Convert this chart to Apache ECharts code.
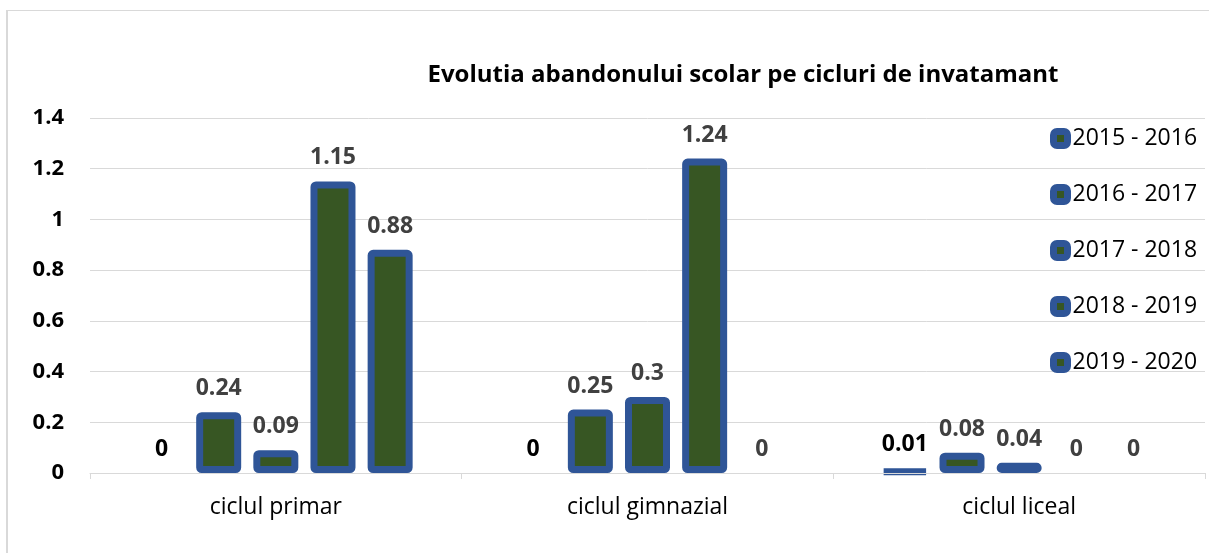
<!DOCTYPE html>
<html>
<head>
<meta charset="utf-8">
<script src="https://cdn.jsdelivr.net/npm/echarts@6/dist/echarts.min.js"></script>
<style>
body{margin:0;background:#fff}
#frame{position:absolute;left:6px;top:10px;width:1203px;height:543px;border-left:2px solid #d9d9d9;border-top:1px solid #d9d9d9;box-sizing:border-box}
#chart{position:absolute;left:0;top:0;width:1209px;height:553px}
</style>
</head>
<body>
<div id="frame"></div>
<div id="chart"></div>
<script>
// categorii si valori
var categories = ['ciclul primar', 'ciclul gimnazial', 'ciclul liceal'];
var seriesNames = ['2015 - 2016', '2016 - 2017', '2017 - 2018', '2018 - 2019', '2019 - 2020'];
var v2015 = [0, 0, 0.01];
var v2016 = [0.24, 0.25, 0.08];
var v2017 = [0.09, 0.3, 0.04];
var v2018 = [1.15, 1.24, 0];
var v2019 = [0.88, 0, 0];
var labelColors = ['#000000', '#404040', '#404040', '#404040', '#404040'];

var font = 'Open Sans';
var values = [v2015, v2016, v2017, v2018, v2019];

var series = [];
for (var i = 0; i < values.length; i++) {
    // barele cu valoare 0 nu au contur vizibil
    var items = [];
    for (var j = 0; j < values[i].length; j++) {
        var d = {value: values[i][j]};
        if (values[i][j] == 0) {
            d.itemStyle = {borderWidth: 0};
        }
        items.push(d);
    }
    series.push({
        name: seriesNames[i],
        type: 'bar',
        data: items,
        barWidth: 45,
        barGap: '27%',
        itemStyle: {
            color: '#375623',
            borderColor: '#2f5597',
            borderWidth: 7,
            borderRadius: 2
        },
        label: {
            show: true,
            position: 'top',
            distance: 12,
            fontFamily: font,
            fontSize: 23,
            fontWeight: 'bold',
            color: labelColors[i]
        }
    });
}

var myChart = echarts.init(document.getElementById('chart'));
var option = {
    animation: false,
    title: {
        text: 'Evolutia abandonului scolar pe cicluri de invatamant',
        left: 738,
        textAlign: 'center',
        top: 58,
        textStyle: {
            fontFamily: font,
            fontSize: 24,
            fontWeight: 'bold',
            color: '#000'
        }
    },
    legend: {
        data: seriesNames,
        orient: 'vertical',
        left: 1045,
        top: 122,
        itemWidth: 14,
        itemHeight: 14,
        itemGap: 33,
        itemTextGap: 7,
        icon: 'roundRect',
        selectedMode: false,
        itemStyle: {
            color: '#375623',
            borderColor: '#2f5597',
            borderWidth: 7
        },
        textStyle: {
            fontFamily: font,
            fontSize: 23,
            lineHeight: 22,
            color: '#000'
        }
    },
    grid: {
        left: 90,
        right: 4,
        top: 118,
        bottom: 80
    },
    xAxis: {
        type: 'category',
        data: categories,
        z: 5,
        axisLine: {lineStyle: {color: '#d9d9d9', width: 1}},
        axisTick: {show: true, length: 6, lineStyle: {color: '#d9d9d9'}},
        axisLabel: {
            fontFamily: font,
            fontSize: 23,
            color: '#000',
            margin: 23
        }
    },
    yAxis: {
        type: 'value',
        min: 0,
        max: 1.4,
        interval: 0.2,
        axisLine: {show: false},
        axisTick: {show: false},
        splitLine: {lineStyle: {color: '#d9d9d9', width: 1}},
        axisLabel: {
            fontFamily: font,
            fontSize: 22,
            fontWeight: 'bold',
            color: '#000',
            margin: 26
        }
    },
    series: series
};
myChart.setOption(option);
</script>
</body>
</html>
